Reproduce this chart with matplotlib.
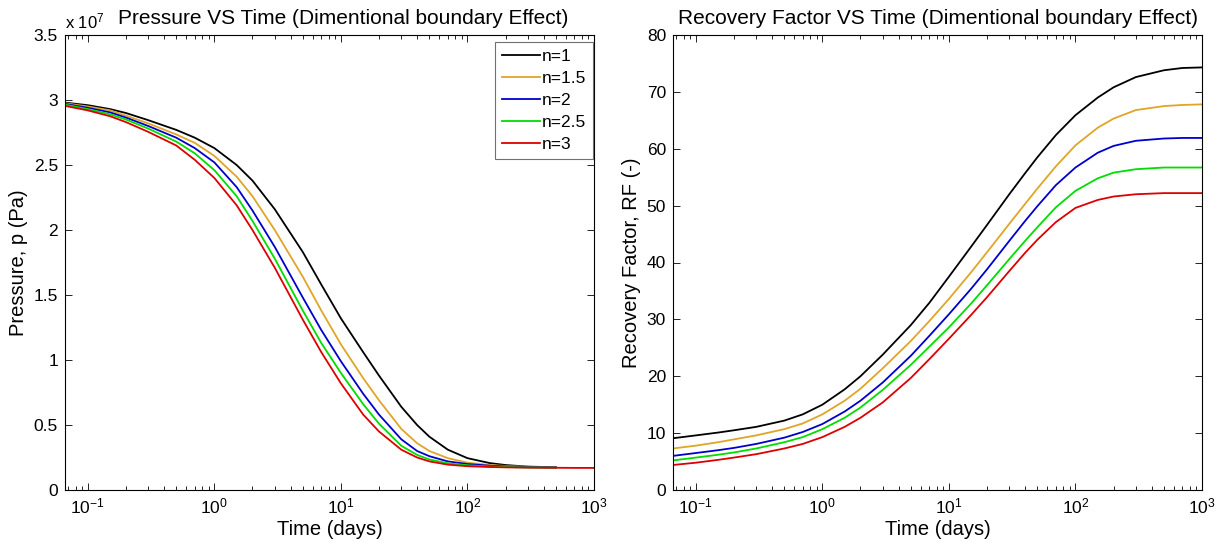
import numpy as np
import matplotlib
matplotlib.use("Agg")
import matplotlib.pyplot as plt
from matplotlib.ticker import FuncFormatter, LogLocator, NullFormatter, MultipleLocator

plt.rcParams["font.family"] = ["Liberation Sans", "DejaVu Sans"]
plt.rcParams["mathtext.fontset"] = "custom"
plt.rcParams["mathtext.rm"] = "Liberation Sans"
plt.rcParams["mathtext.it"] = "Liberation Sans:italic"
plt.rcParams["mathtext.bf"] = "Liberation Sans:bold"
plt.rcParams["axes.unicode_minus"] = False

labels = ["n=1", "n=1.5", "n=2", "n=2.5", "n=3"]
colors = ["#000000", "#E0A526", "#0000CC", "#00DD00", "#DD0000"]

# time in days
time = [0.066, 0.1, 0.15, 0.2, 0.3, 0.5, 0.7, 1, 1.5, 2, 3, 5, 7, 10, 15, 20,
        30, 40, 50, 70, 100, 150, 200, 300, 500, 700, 1000]

# pressure, in units of 1e7 Pa
p_n1 = [2.98, 2.96, 2.93, 2.90, 2.845, 2.77, 2.71, 2.63, 2.50, 2.38, 2.16, 1.83,
        1.58, 1.32, 1.06, 0.88, 0.64, 0.50, 0.41, 0.31, 0.245, 0.207, 0.192,
        0.18, 0.175]
p_n15 = [2.975, 2.95, 2.92, 2.88, 2.82, 2.735, 2.67, 2.57, 2.41, 2.26, 2.00,
         1.64, 1.38, 1.12, 0.86, 0.69, 0.47, 0.36, 0.30, 0.245, 0.21, 0.192,
         0.185, 0.178, 0.174]
p_n2 = [2.97, 2.94, 2.905, 2.865, 2.80, 2.71, 2.63, 2.52, 2.33, 2.15, 1.87,
        1.48, 1.23, 0.99, 0.74, 0.58, 0.39, 0.30, 0.26, 0.22, 0.20, 0.187,
        0.181, 0.176, 0.173]
p_n25 = [2.965, 2.93, 2.89, 2.85, 2.78, 2.68, 2.59, 2.46, 2.26, 2.07, 1.78,
         1.38, 1.13, 0.90, 0.66, 0.51, 0.34, 0.27, 0.235, 0.205, 0.19, 0.181,
         0.177, 0.173, 0.171]
p_n3 = [2.955, 2.92, 2.875, 2.83, 2.755, 2.65, 2.54, 2.40, 2.19, 2.00, 1.71,
        1.31, 1.06, 0.82, 0.58, 0.45, 0.31, 0.25, 0.22, 0.195, 0.183, 0.177,
        0.174, 0.172, 0.171, 0.17, 0.17]

# recovery factor (-)
rf_n1 = [9.1, 9.6, 10.1, 10.5, 11.1, 12.2, 13.3, 15.0, 17.7, 20.0, 23.8, 29.0,
         32.9, 37.5, 42.8, 46.6, 52.0, 55.7, 58.5, 62.4, 65.9, 69.0, 70.8,
         72.6, 73.8, 74.2, 74.3]
rf_n15 = [7.3, 7.8, 8.4, 8.9, 9.6, 10.7, 11.7, 13.3, 15.7, 17.8, 21.4, 26.2,
          29.7, 33.6, 38.3, 41.8, 46.8, 50.3, 53.0, 56.9, 60.6, 63.7, 65.3,
          66.8, 67.5, 67.7, 67.8]
rf_n2 = [6.0, 6.5, 7.0, 7.4, 8.1, 9.2, 10.2, 11.6, 13.8, 15.7, 18.9, 23.6,
         27.1, 30.9, 35.4, 38.8, 43.8, 47.3, 49.9, 53.6, 56.7, 59.3, 60.5,
         61.4, 61.8, 61.9, 61.9]
rf_n25 = [5.2, 5.7, 6.2, 6.6, 7.3, 8.4, 9.3, 10.7, 12.7, 14.5, 17.6, 22.0,
          25.2, 28.6, 32.8, 36.0, 40.6, 43.8, 46.2, 49.7, 52.6, 54.8, 55.8,
          56.4, 56.7, 56.7, 56.7]
rf_n3 = [4.4, 4.8, 5.3, 5.7, 6.3, 7.3, 8.1, 9.3, 11.1, 12.7, 15.4, 19.7,
         23.0, 26.6, 30.8, 33.9, 38.5, 41.7, 44.0, 47.1, 49.6, 51.0, 51.6,
         52.0, 52.2, 52.2, 52.2]

pressure = [p_n1, p_n15, p_n2, p_n25, p_n3]
recovery = [rf_n1, rf_n15, rf_n2, rf_n25, rf_n3]

fig = plt.figure(figsize=(12.24, 5.5), dpi=100)
ax1 = fig.add_axes([65 / 1224, 60 / 550, 529 / 1224, 455 / 550])
ax2 = fig.add_axes([673 / 1224, 60 / 550, 529 / 1224, 455 / 550])

for p, c, lab in zip(pressure, colors, labels):
    ax1.plot(time[:len(p)], p, color=c, lw=1.3, label=lab)
for rf, c, lab in zip(recovery, colors, labels):
    ax2.plot(time[:len(rf)], rf, color=c, lw=1.3, label=lab)


def style(ax):
    ax.set_xscale("log")
    ax.set_xlim(0.066, 1000)
    ax.xaxis.set_major_locator(LogLocator(base=10, numticks=10))
    ax.xaxis.set_minor_locator(LogLocator(base=10, subs=np.arange(2, 10), numticks=20))
    ax.xaxis.set_minor_formatter(NullFormatter())
    ax.tick_params(which="both", direction="in", top=True, right=True,
                   labelsize=12.5, width=0.6, colors="black")
    ax.tick_params(which="major", length=5, pad=5)
    ax.tick_params(which="minor", length=3)
    for s in ax.spines.values():
        s.set_linewidth(0.8)
    ax.set_xlabel("Time (days)", fontsize=14.5, labelpad=2)


style(ax1)
style(ax2)

ax1.set_ylim(0, 3.5)
ax1.yaxis.set_major_locator(MultipleLocator(0.5))
ax1.yaxis.set_major_formatter(FuncFormatter(lambda v, _: "%g" % v))
ax1.set_ylabel("Pressure, p (Pa)", fontsize=14.5)
ax1.set_title("Pressure VS Time (Dimentional boundary Effect)", fontsize=15, pad=8,
              x=0.525)
ax1.text(0.0, 1.008, r"x 10$^{7}$", transform=ax1.transAxes, fontsize=12,
         ha="left", va="bottom")
leg = ax1.legend(loc="upper right", bbox_to_anchor=(0.998, 0.985), borderaxespad=0,
                 fontsize=12.5, handlelength=2.2, handletextpad=0.1, labelspacing=0.4,
                 fancybox=False, framealpha=1, edgecolor="#707070", borderpad=0.4)
leg.get_frame().set_linewidth(0.8)

ax2.set_ylim(0, 80)
ax2.yaxis.set_major_locator(MultipleLocator(10))
ax2.set_ylabel("Recovery Factor, RF (-)", fontsize=14.5)
ax2.set_title("Recovery Factor VS Time (Dimentional boundary Effect)", fontsize=15, pad=8)

fig.savefig("out.png", dpi=100)
